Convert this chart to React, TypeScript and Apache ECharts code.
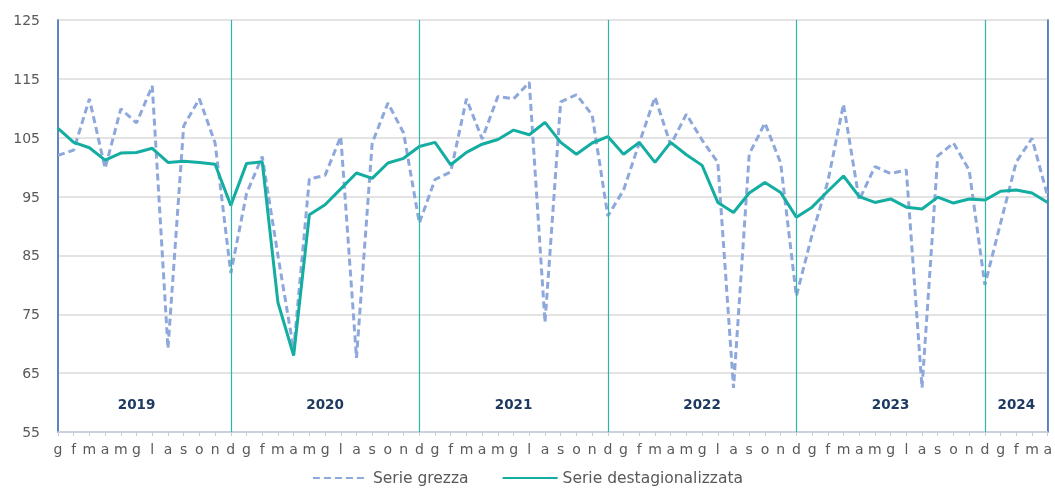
import React, { useEffect, useRef } from "react";
import * as echarts from "echarts";

const years = ["2019", "2020", "2021", "2022", "2023", "2024"];
const monthLetters = ["g", "f", "m", "a", "m", "g", "l", "a", "s", "o", "n", "d"];
const monthsPerYear = [12, 12, 12, 12, 12, 4];

const serieGrezza = [
  102.0, 102.9, 111.6, 99.8, 109.9, 107.5, 113.8, 69.2, 107.0, 111.6, 104.1, 82.0,
  95.5, 101.8, 85.0, 69.0, 98.0, 98.6, 105.2, 67.6, 104.1, 110.9, 105.8, 90.5,
  97.9, 99.2, 111.6, 104.8, 112.0, 111.6, 114.4, 73.6, 111.1, 112.3, 108.9, 91.7,
  96.1, 104.1, 111.9, 103.8, 109.0, 104.6, 100.8, 62.5, 102.2, 107.5, 100.7, 78.1,
  88.5, 97.5, 110.7, 94.4, 100.1, 98.9, 99.5, 62.5, 101.9, 104.1, 99.5, 80.0,
  90.5, 100.9, 104.9, 95.0,
];

const serieDest = [
  106.6, 104.2, 103.3, 101.2, 102.4, 102.5, 103.2, 100.8, 101.0, 100.8, 100.5, 93.5,
  100.6, 100.9, 77.0, 68.0, 91.9, 93.6, 96.3, 99.0, 98.1, 100.7, 101.5, 103.5,
  104.2, 100.4, 102.5, 103.9, 104.7, 106.3, 105.5, 107.6, 104.2, 102.2, 104.1, 105.2,
  102.2, 104.2, 100.8, 104.2, 102.1, 100.3, 94.0, 92.3, 95.6, 97.4, 95.7, 91.5,
  93.2, 95.9, 98.5, 95.0, 94.0, 94.6, 93.2, 92.9, 94.9, 93.9, 94.6, 94.4,
  95.9, 96.1, 95.6, 94.0,
];

const yTicks = [55, 65, 75, 85, 95, 105, 115, 125];

const FONT = "DejaVu Sans";

export default function App() {
  const ref = useRef<HTMLDivElement>(null);

  useEffect(() => {
    if (!ref.current) return;
    const chart = echarts.init(ref.current, undefined, { renderer: "svg" });

    const categories: string[] = [];
    const yearStart: number[] = [];
    years.forEach((y, yi) => {
      yearStart.push(categories.length);
      for (let m = 0; m < monthsPerYear[yi]; m++) categories.push(y + "-" + m);
    });
    const decIdx = categories
      .map((c, i) => (c.endsWith("-11") ? i : -1))
      .filter((i) => i >= 0);

    chart.setOption({
      animation: false,
      grid: {
        left: 58,
        right: 4,
        top: 20,
        bottom: 58,
        show: true,
        borderColor: "#A9B7CF",
        borderWidth: 1.5,
      },
      legend: {
        top: 470,
        left: "center",
        itemWidth: 55,
        itemHeight: 10,
        itemGap: 33,
        padding: 0,
        itemStyle: { opacity: 0 },
        textStyle: { fontFamily: FONT, fontSize: 15.5, color: "#595959" },
        data: ["Serie grezza", "Serie destagionalizzata"],
      },
      xAxis: {
        type: "category",
        boundaryGap: false,
        data: categories,
        axisLine: { show: true, lineStyle: { color: "#C3CCDA", width: 1.5 } },
        axisTick: { show: true, interval: 0, length: 4, lineStyle: { color: "#C3CCDA" } },
        axisLabel: {
          interval: 0,
          margin: 10,
          fontFamily: FONT,
          fontSize: 14,
          color: "#595959",
          formatter: (v: string) => monthLetters[Number(v.split("-")[1])],
        },
        splitLine: { show: false },
      },
      yAxis: [
        {
          type: "value",
          min: yTicks[0],
          max: yTicks[yTicks.length - 1],
          interval: 10,
          axisLine: { show: true, lineStyle: { color: "#3E6DB6", width: 1.5 } },
          axisTick: { show: false },
          axisLabel: { margin: 18, fontFamily: FONT, fontSize: 14, color: "#595959" },
          splitLine: { show: true, lineStyle: { color: "#E3E3E3", width: 2 } },
        },
        {
          type: "value",
          position: "right",
          min: yTicks[0],
          max: yTicks[yTicks.length - 1],
          interval: 10,
          axisLine: { show: true, lineStyle: { color: "#3E6DB6", width: 1.5 } },
          axisTick: { show: false },
          axisLabel: { show: false },
          splitLine: { show: false },
        },
      ],
      series: [
        {
          name: "Serie grezza",
          type: "line",
          data: serieGrezza,
          symbol: "none",
          color: "#8EA8DC",
          lineStyle: { color: "#8EA8DC", width: 3, type: [7, 4] },
          z: 2,
          markLine: {
            silent: true,
            symbol: "none",
            label: { show: false },
            lineStyle: { color: "#2BB8AA", width: 1.2, type: "solid", opacity: 1 },
            data: decIdx.map((i) => ({ xAxis: i })),
          },
        },
        {
          name: "Serie destagionalizzata",
          type: "line",
          data: serieDest,
          symbol: "none",
          color: "#13ADA1",
          lineStyle: { color: "#13ADA1", width: 3 },
          z: 3,
        },
      ],
    });

    const labels = years.map((y, yi) => {
      const first = yearStart[yi];
      const last = first + monthsPerYear[yi] - 1;
      const center = (first + last) / 2 - 0.3;
      const px = chart.convertToPixel({ xAxisIndex: 0 }, center) as number;
      const py = chart.convertToPixel({ yAxisIndex: 0 }, 59.8) as number;
      return {
        type: "text",
        x: px,
        y: py,
        style: {
          text: y,
          fontFamily: FONT,
          fontWeight: "bold",
          fontSize: 13.5,
          fill: "#1F3A60",
          align: "center",
          verticalAlign: "middle",
        },
        z: 10,
      };
    });
    chart.setOption({ graphic: labels });

    return () => chart.dispose();
  }, []);

  return (
    <div
      ref={ref}
      style={{ position: "fixed", left: 0, top: 0, width: 1055, height: 490 }}
    />
  );
}
